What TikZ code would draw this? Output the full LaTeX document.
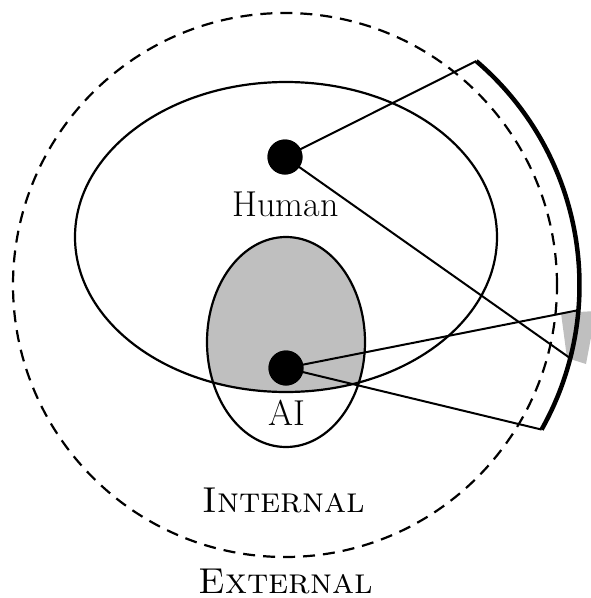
\documentclass[tikz,border=0pt]{standalone}
\begin{document}
\begin{tikzpicture}[x=1pt,y=1pt,
  outline/.style={line width=2.2pt},
  conn/.style={line width=2pt},
  dot/.style={circle,fill=black,minimum size=35pt,inner sep=0pt},
  lbl/.style={anchor=base,inner sep=0pt,font=\fontsize{36}{43}\selectfont}]
\useasboundingbox (0,0) rectangle (591,-598);
\coordinate (O) at (285,-285);
% gray: intersection of the two ellipses
\begin{scope}
  \clip (286,-237) ellipse [x radius=211pt, y radius=155pt];
  \fill[gray!50] (286,-342) ellipse [x radius=79pt, y radius=105pt];
\end{scope}
% gray patch
\fill[gray!50] (561,-313) -- (596,-311) -- (586,-364) -- (567,-358) -- cycle;
% outlines
\draw[outline] (286,-237) ellipse [x radius=211pt, y radius=155pt];
\draw[outline] (286,-342) ellipse [x radius=79pt, y radius=105pt];
\draw[line width=2.2pt,dash pattern=on 12pt off 8pt] (O) circle [radius=272pt];
% thick arc
\coordinate (arcA) at ([shift={(49.5:294.5)}]O);
\coordinate (arcB) at ([shift={(-14.4:294.5)}]O);
\coordinate (arcC) at ([shift={(-4.9:294.5)}]O);
\coordinate (arcD) at ([shift={(-29.4:294.5)}]O);
\draw[line width=4.5pt] (arcA) arc [start angle=49.5, end angle=-29.4, radius=294.5pt];
% dots
\node[dot] (human) at (285,-157) {};
\node[dot] (ai) at (286,-368) {};
% connectors
\draw[conn] (human.center) -- (arcA);
\draw[conn] (human.center) -- (arcB);
\draw[conn] (ai.center) -- (arcC);
\draw[conn] (ai.center) -- (arcD);
\node[dot] at (human) {};
\node[dot] at (ai) {};
% labels
\node[lbl] (humanlbl) at (285.5,-216) {Human};
\node[lbl] (ailbl) at (286.5,-425) {AI};
\node[lbl] (internal) at (284,-512) {\textsc{Internal}};
\node[lbl] (external) at (286,-593) {\textsc{External}};
\end{tikzpicture}
\end{document}
